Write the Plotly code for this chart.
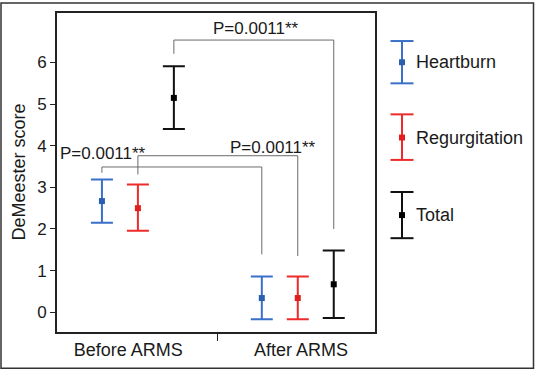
import plotly.graph_objects as go

# ---------------- data ----------------
groups = ["Before ARMS", "After ARMS"]
series_names = ["Heartburn", "Regurgitation", "Total"]

heartburn_mean = [2.67, 0.34]
heartburn_upper = [3.19, 0.86]
heartburn_lower = [2.15, -0.17]

regurg_mean = [2.50, 0.34]
regurg_upper = [3.07, 0.86]
regurg_lower = [1.96, -0.17]

total_mean = [5.15, 0.67]
total_upper = [5.91, 1.48]
total_lower = [4.40, -0.14]

p_labels = ["P=0.0011**", "P=0.0011**", "P=0.0011**"]
y_ticks = [0, 1, 2, 3, 4, 5, 6]

# ---------------- styling ----------------
colors = ["#3a70c8", "#ee2b2b", "#111111"]
marker_colors = ["#2a5fb0", "#e01e1e", "#000000"]
offsets = [-0.225, 0.0, 0.225]
label_shift = [-0.06, 0.02]
FONT = "Liberation Sans, Arial, sans-serif"
TXT = "#1a1a1a"

W, H = 535, 371
ML, MR, MT, MB = 57, 160, 11, 38
PW, PH = W - ML - MR, H - MT - MB


def px_x(px):
    return (px - ML) / PW


def px_y(py):
    return (H - MB - py) / PH


means = [heartburn_mean, regurg_mean, total_mean]
uppers = [heartburn_upper, regurg_upper, total_upper]
lowers = [heartburn_lower, regurg_lower, total_lower]

fig = go.Figure()
for i, name in enumerate(series_names):
    xs = [g + offsets[i] for g in range(len(groups))]
    fig.add_trace(go.Scatter(
        x=xs, y=means[i], mode="markers", name=name, showlegend=False,
        marker=dict(symbol="square", size=6, color=marker_colors[i]),
        error_y=dict(type="data", symmetric=False,
                     array=[u - m for u, m in zip(uppers[i], means[i])],
                     arrayminus=[m - l for m, l in zip(means[i], lowers[i])],
                     color=colors[i], thickness=2, width=11),
    ))

shapes = []
annotations = []
BR = "#6a6a6a"

# comparison brackets: (series index, top y, left leg end, right leg end, label x, label y)
brackets = [
    (2, 6.54, 6.21, 2.00, 0.74, 6.82),
    (0, 3.49, 3.35, 1.39, -0.218, 3.81),
    (1, 3.76, 3.31, 1.35, 0.845, 3.96),
]
for k, (si, ytop, yl, yr, lx, ly) in enumerate(brackets):
    x0 = 0 + offsets[si]
    x1 = 1 + offsets[si]
    path = f"M {x0},{yl} L {x0},{ytop} L {x1},{ytop} L {x1},{yr}"
    shapes.append(dict(type="path", path=path, xref="x", yref="y",
                       line=dict(color=BR, width=1)))
    annotations.append(dict(x=lx, y=ly, xref="x", yref="y", text=p_labels[k],
                            showarrow=False, xanchor="center", yanchor="middle",
                            font=dict(family=FONT, size=17, color=TXT)))

# legend drawn with error-bar glyphs
leg_cx = 402
leg_items = [(39.3, 82, 60.7), (113.3, 159.3, 136.7), (191.7, 238.3, 215)]
for i, (top, bot, mid) in enumerate(leg_items):
    c = colors[i]
    shapes.append(dict(type="line", xref="paper", yref="paper",
                       x0=px_x(leg_cx), x1=px_x(leg_cx), y0=px_y(top), y1=px_y(bot),
                       line=dict(color=c, width=2)))
    for yy in (top, bot):
        shapes.append(dict(type="line", xref="paper", yref="paper",
                           x0=px_x(leg_cx - 11.5), x1=px_x(leg_cx + 11.5),
                           y0=px_y(yy), y1=px_y(yy), line=dict(color=c, width=2)))
    shapes.append(dict(type="rect", xref="paper", yref="paper",
                       x0=px_x(leg_cx - 3), x1=px_x(leg_cx + 3),
                       y0=px_y(mid - 3), y1=px_y(mid + 3),
                       fillcolor=marker_colors[i], line=dict(width=0)))
    annotations.append(dict(x=px_x(414), y=px_y(mid), xref="paper", yref="paper",
                            text=series_names[i], showarrow=False, xanchor="left",
                            yanchor="middle",
                            font=dict(family=FONT, size=18, color=TXT)))

# outer border
shapes.append(dict(type="rect", xref="paper", yref="paper",
                   x0=px_x(1), x1=px_x(533.5), y0=px_y(369.5), y1=px_y(1),
                   line=dict(color="#333333", width=1.5)))

# y-axis title
annotations.append(dict(x=px_x(18), y=0.5, xref="paper", yref="paper",
                        text="DeMeester score", textangle=-90, showarrow=False,
                        xanchor="center", yanchor="middle",
                        font=dict(family=FONT, size=18, color=TXT)))

fig.update_layout(
    width=W, height=H,
    margin=dict(l=ML, r=MR, t=MT, b=MB),
    paper_bgcolor="white", plot_bgcolor="white",
    shapes=shapes, annotations=annotations,
    showlegend=False,
    xaxis=dict(range=[-0.506, 1.483],
               tickvals=[g + s for g, s in zip(range(len(groups)), label_shift)],
               ticktext=groups,
               ticks="", showgrid=False, zeroline=False,
               showline=True, linecolor="#222222", linewidth=2, mirror=True,
               tickfont=dict(family=FONT, size=18, color=TXT),
               minor=dict(tickmode="array", tickvals=[0.5], ticks="outside",
                          ticklen=7, tickwidth=1, tickcolor="#222222", showgrid=False)),
    yaxis=dict(range=[-0.476, 7.19], tickvals=y_ticks, ticks="outside",
               ticklen=5, tickwidth=1, tickcolor="#222222",
               showgrid=False, zeroline=False,
               showline=True, linecolor="#222222", linewidth=2, mirror=True,
               tickfont=dict(family=FONT, size=17, color=TXT)),
)

fig.write_html("out.html", config={"displayModeBar": False},
               post_script="document.body.style.margin='0';")
